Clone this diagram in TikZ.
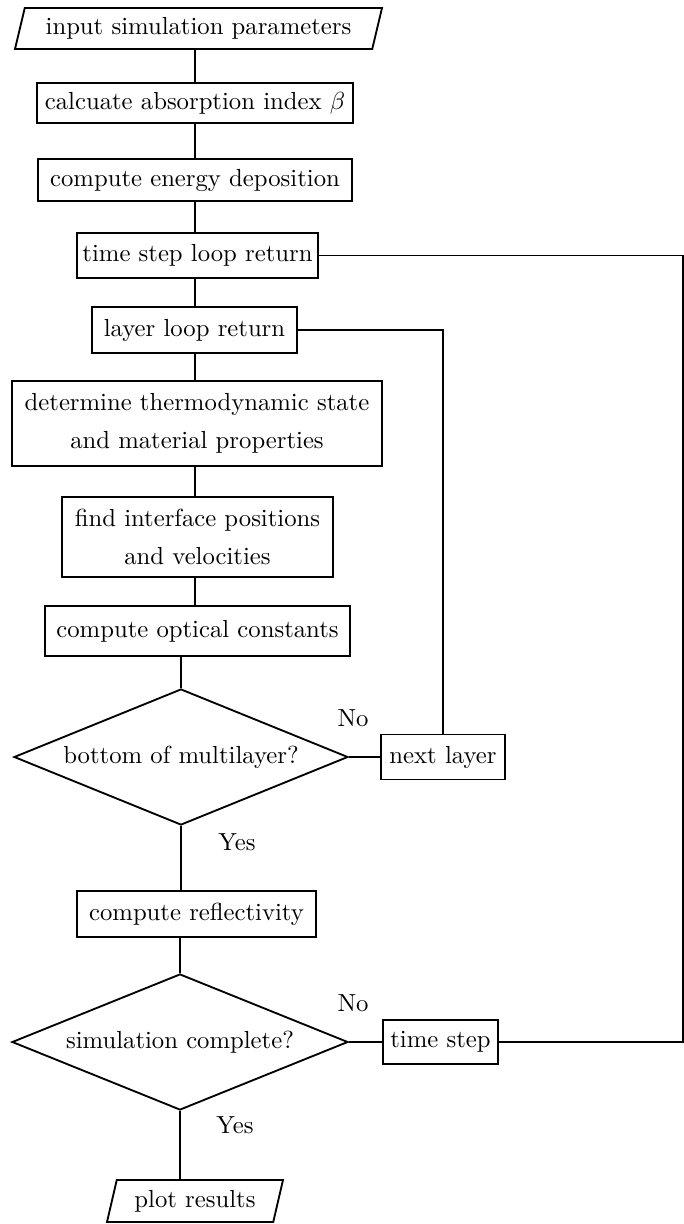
\documentclass[tikz,border=0pt]{standalone}
\usetikzlibrary{shapes.geometric}
\begin{document}
\begin{tikzpicture}[x=0.405pt,y=-0.405pt,
  wh/.style 2 args={minimum width=#1*0.405pt, minimum height=#2*0.405pt},
  every node/.style={font=\fontsize{10}{15.5}\selectfont, inner sep=0pt},
  procbox/.style={draw, rectangle, align=center, line width=0.75pt},
  iobox/.style={draw, trapezium, trapezium left angle=66, trapezium right angle=114, trapezium stretches body, line width=0.75pt},
  decbox/.style={draw, diamond, aspect=2.46, line width=0.75pt},
  conn/.style={line width=0.75pt},
  lbl/.style={}]
\useasboundingbox (0,0) rectangle (684,1224);
\node[iobox, wh={367}{41}] (in1) at (198.5,28.5) {input simulation parameters};
\node[procbox, wh={316}{40}] (calc) at (195,103) {calcuate absorption index $\beta$};
\node[procbox, wh={314}{42}] (energy) at (195,180) {compute energy deposition};
\node[procbox, wh={241}{45}] (tloop) at (197.5,255.5) {time step loop return};
\node[procbox, wh={205}{46}] (layer) at (194.5,330) {layer loop return};
\node[procbox, wh={370}{85}] (thermo) at (197,423.5) {determine thermodynamic state\\and material properties};
\node[procbox, wh={271}{80}] (iface) at (197.5,537) {find interface positions\\and velocities};
\node[procbox, wh={305}{50}] (optical) at (197.5,631) {compute optical constants};
\node[decbox, wh={334}{136}] (d1) at (181,757) {bottom of multilayer?};
\node[procbox, wh={124}{45}] (next) at (443,757) {next layer};
\node[procbox, wh={239}{46}] (reflect) at (196.5,914) {compute reflectivity};
\node[decbox, wh={336}{136}] (d2) at (180,1042) {simulation complete?};
\node[procbox, wh={115}{44}] (tstep) at (440.5,1042) {time step};
\node[iobox, wh={176}{42}] (plot) at (195,1201) {plot results};
\node[lbl] (no1) at (353,718) {No};
\node[lbl] (yes1) at (237,842) {Yes};
\node[lbl] (no2) at (353,1003) {No};
\node[lbl] (yes2) at (235,1125) {Yes};
\coordinate (rt) at (683,255.5);
\draw[conn] (in1.south -| calc.north) -- (calc.north);
\draw[conn] (calc.south) -- (energy.north);
\draw[conn] (energy.south) -- (energy.south |- tloop.north);
\draw[conn] (energy.south |- tloop.south) -- (energy.south |- layer.north);
\draw[conn] (layer.south -| energy.south) -- (energy.south |- thermo.north);
\draw[conn] (thermo.south -| energy.south) -- (energy.south |- iface.north);
\draw[conn] (iface.south -| energy.south) -- (energy.south |- optical.north);
\draw[conn] (d1.north |- optical.south) -- (d1.north);
\draw[conn] (d1.east) -- (next.west);
\draw[conn] (next.north) |- (layer.east);
\draw[conn] (d1.south) -- (d1.south |- reflect.north);
\draw[conn] (d2.north |- reflect.south) -- (d2.north);
\draw[conn] (d2.east) -- (tstep.west);
\draw[conn] (tstep.east) -| (rt) -- (tloop.east);
\draw[conn] (d2.south) -- (d2.south |- plot.north);
\end{tikzpicture}
\end{document}
